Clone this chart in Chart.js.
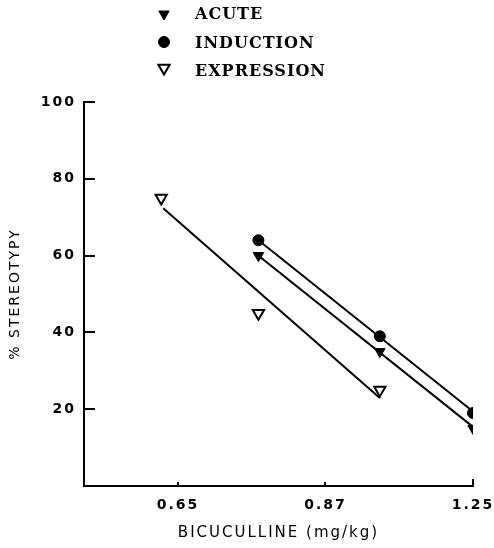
<!DOCTYPE html>
<html><head><meta charset="utf-8">
<script src="https://cdn.jsdelivr.net/npm/chart.js@4/dist/chart.umd.min.js"></script>
<style>html,body{margin:0;padding:0;background:#fff;}canvas{display:block}</style>
</head><body>
<canvas id="c" width="494" height="548"></canvas>
<script>
// ---- data ----
const xTickDoses = [0.65, 0.87, 1.25];
const yTickValues = [20, 40, 60, 80, 100];
const seriesNames = ['ACUTE', 'INDUCTION', 'EXPRESSION'];
const acuteDose = [0.77, 1.01, 1.25];
const acuteValues = [60, 35, 15];
const inductionDose = [0.77, 1.01, 1.25];
const inductionValues = [64, 39, 19];
const expressionDose = [0.625, 0.77, 1.01];
const expressionValues = [75, 45, 25];
const acuteFitDose = [0.765, 1.25];
const acuteFitValues = [60.7, 15.4];
const inductionFitDose = [0.77, 1.25];
const inductionFitValues = [64, 19.4];
const expressionFitDose = [0.628, 1.01];
const expressionFitValues = [72.3, 22.9];

// dose -> position on the printed (piecewise) dose axis: tick i sits at i+1
function pos(d) {
  const t = xTickDoses;
  let i = 0;
  if (d >= t[1]) i = 1;
  return i + 1 + (d - t[i]) / (t[i + 1] - t[i]);
}
const pts = (xs, ys) => xs.map((x, i) => ({ x: pos(x), y: ys[i] }));

const spacingPlugin = {
  id: 'spacing',
  beforeUpdate(c) { c.ctx.letterSpacing = '2px'; },
  beforeLayout(c) { c.ctx.letterSpacing = '2px'; },
  beforeDraw(c) { c.ctx.letterSpacing = '2px'; }
};

const innerTicks = {
  id: 'innerTicks',
  afterDraw(chart) {
    const ctx = chart.ctx, xs = chart.scales.x, ys = chart.scales.y;
    const a = chart.chartArea;
    ctx.save();
    ctx.strokeStyle = '#000';
    ctx.lineWidth = 2;
    ctx.beginPath();
    yTickValues.forEach(v => {
      const y = Math.round(ys.getPixelForValue(v));
      ctx.moveTo(a.left, y); ctx.lineTo(a.left + 11, y);
    });
    xTickDoses.forEach((d, i) => {
      const x = Math.round(xs.getPixelForValue(i + 1));
      ctx.moveTo(x, a.bottom); ctx.lineTo(x, a.bottom - (i === xTickDoses.length - 1 ? 7 : 4));
    });
    ctx.stroke();
    ctx.restore();
  }
};

const legendPlugin = {
  id: 'customLegend',
  afterDraw(chart) {
    const ctx = chart.ctx;
    const markerY = [14, 42, 68];
    const textY = [15, 44, 72];
    ctx.save();
    chart.data.datasets.filter(d => d.isSeries).forEach((ds, i) => {
      ctx.fillStyle = ds.backgroundColor;
      ctx.strokeStyle = ds.borderColor;
      ctx.lineWidth = ds.borderWidth;
      Chart.helpers.drawPoint(ctx, {
        pointStyle: ds.pointStyle, rotation: ds.rotation,
        radius: ds.pointRadius, borderWidth: ds.borderWidth
      }, 164, markerY[i]);
      ctx.letterSpacing = '1px';
      ctx.font = 'bold 16px "DejaVu Serif"';
      ctx.fillStyle = '#000';
      ctx.textAlign = 'left';
      ctx.textBaseline = 'middle';
      ctx.fillText(ds.label, 195, textY[i]);
    });
    ctx.restore();
  }
};

Chart.defaults.font.family = '"DejaVu Sans", sans-serif';
Chart.defaults.font.size = 14;
Chart.defaults.color = '#000';

const seriesStyle = [
  { pointStyle: 'triangle', rotation: 180, pointRadius: 6, backgroundColor: '#000', borderColor: '#000', borderWidth: 1 },
  { pointStyle: 'circle', rotation: 0, pointRadius: 5.5, backgroundColor: '#000', borderColor: '#000', borderWidth: 1 },
  { pointStyle: 'triangle', rotation: 180, pointRadius: 6.5, backgroundColor: '#fff', borderColor: '#000', borderWidth: 2 }
];
const seriesData = [pts(acuteDose, acuteValues), pts(inductionDose, inductionValues), pts(expressionDose, expressionValues)];
const fitData = [pts(acuteFitDose, acuteFitValues), pts(inductionFitDose, inductionFitValues), pts(expressionFitDose, expressionFitValues)];

const datasets = [];
fitData.forEach(d => datasets.push({
  label: '', data: d, showLine: true, pointRadius: 0, borderColor: '#000', borderWidth: 2, fill: false, order: 2
}));
seriesData.forEach((d, i) => datasets.push(Object.assign({
  label: seriesNames[i], data: d, showLine: false, isSeries: true, order: 1, pointHoverRadius: seriesStyle[i].pointRadius
}, seriesStyle[i])));

new Chart(document.getElementById('c'), {
  type: 'scatter',
  data: { datasets },
  plugins: [spacingPlugin, innerTicks, legendPlugin],
  options: {
    responsive: false,
    animation: false,
    layout: { padding: { top: 102, right: 21, left: 0, bottom: 0 } },
    plugins: { legend: { display: false }, tooltip: { enabled: false } },
    scales: {
      x: {
        type: 'linear', min: 0.363, max: 3,
        afterBuildTicks: s => { s.ticks = xTickDoses.map((d, i) => ({ value: i + 1 })); },
        afterFit: s => { s.height = 62; s.paddingLeft = 0; s.paddingRight = 0; },
        ticks: {
          font: { weight: 'bold', size: 14 }, padding: 11,
          callback: v => xTickDoses[v - 1].toFixed(2)
        },
        grid: { display: false, drawTicks: false },
        border: { display: true, color: '#000', width: 2 },
        title: { display: true, text: 'BICUCULLINE (mg/kg)', font: { size: 15 }, padding: { top: 0, bottom: 6 } }
      },
      y: {
        type: 'linear', min: 0, max: 100,
        afterBuildTicks: s => { s.ticks = yTickValues.map(v => ({ value: v })); },
        afterFit: s => { s.width = 84; s.paddingTop = 0; s.paddingBottom = 0; },
        ticks: { font: { weight: 'bold', size: 14 }, padding: 8 },
        grid: { display: false, drawTicks: false },
        border: { display: true, color: '#000', width: 2 },
        title: { display: true, text: '% STEREOTYPY', font: { size: 14 }, padding: { top: 7, bottom: 0 } }
      }
    }
  }
});
</script>
</body></html>
